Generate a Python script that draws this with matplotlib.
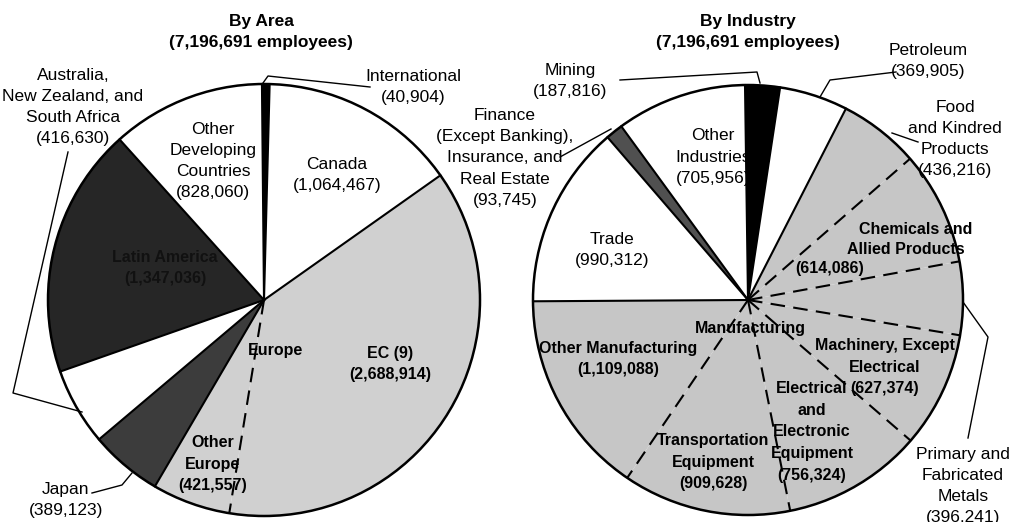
import matplotlib
matplotlib.use('Agg')
import matplotlib.pyplot as plt
from matplotlib.patches import Circle
import numpy as np

plt.rcParams['font.family'] = ['Liberation Sans', 'DejaVu Sans']

W, H = 1019, 522

# ---- By Area ----
area_labels = ['Canada', 'EC (9)', 'Other Europe', 'Japan',
               'Australia, New Zealand, and South Africa', 'Latin America',
               'Other Developing Countries', 'International']
area_values = [1064467, 2688914, 421557, 389123, 416630, 1347036, 828060, 40904]
area_groups = ['ca', 'eu', 'eu', 'jp', 'au', 'la', 'od', 'in']
area_colors = ['white', '#d0d0d0', '#d0d0d0', '#3c3c3c', 'white', '#262626', 'white', 'black']

# ---- By Industry ----
ind_labels = ['Mining', 'Petroleum', 'Food and Kindred Products',
              'Chemicals and Allied Products', 'Primary and Fabricated Metals',
              'Machinery, Except Electrical', 'Electrical and Electronic Equipment',
              'Transportation Equipment', 'Other Manufacturing', 'Trade',
              'Finance (Except Banking), Insurance, and Real Estate', 'Other Industries']
ind_values = [187816, 369905, 436216, 614086, 396241, 627374, 756324, 909628,
              1109088, 990312, 93745, 705956]
ind_groups = ['mi', 'pe', 'mf', 'mf', 'mf', 'mf', 'mf', 'mf', 'mf', 'tr', 'fi', 'oi']
ind_colors = ['black', 'white', '#c6c6c6', '#c6c6c6', '#c6c6c6', '#c6c6c6', '#c6c6c6',
              '#c6c6c6', '#c6c6c6', 'white', '#505050', 'white']

fig = plt.figure(figsize=(W / 100, H / 100), dpi=100)
ax = fig.add_axes([0, 0, 1, 1])


def P(x, y):
    return (x, H - y)


def draw_pie(values, colors, groups, cx, cy, r, start):
    c = P(cx, cy)
    ax.pie(values, colors=colors, startangle=start, counterclock=False,
           center=c, radius=r, wedgeprops=dict(linewidth=0), frame=True)
    total = float(sum(values))
    cum = np.concatenate([[0], np.cumsum(values)[:-1]])
    for i in range(len(values)):
        ang = np.deg2rad(start - 360.0 * cum[i] / total)
        dashed = groups[i - 1] == groups[i]
        x2 = c[0] + r * np.cos(ang)
        y2 = c[1] + r * np.sin(ang)
        if dashed:
            ax.plot([c[0], x2], [c[1], y2], color='black', lw=1.5,
                    linestyle=(0, (7, 4)), solid_capstyle='butt', zorder=5)
        else:
            ax.plot([c[0], x2], [c[1], y2], color='black', lw=1.5, zorder=5)
    ax.add_patch(Circle(c, r, fill=False, lw=1.8, ec='black', zorder=6))


draw_pie(area_values, area_colors, area_groups, 264, 300, 216, 88.5)
draw_pie(ind_values, ind_colors, ind_groups, 748, 300, 215, 90.8)

ax.set_xlim(0, W)
ax.set_ylim(0, H)
ax.set_aspect('equal')
ax.axis('off')

FS = 12.5
FS_IN = 11.5
LS = 1.5


def T(x, y, s, bold=False, color='black'):
    ax.text(*P(x, y), s, ha='center', va='center',
            fontsize=FS_IN if bold else FS, color=color,
            fontweight='bold' if bold else 'normal',
            linespacing=LS * (FS / FS_IN) ** 0.0 if not bold else LS * FS / FS_IN * 0.97,
            multialignment='center', zorder=10)


def L(pts):
    xs = [p[0] for p in pts]
    ys = [H - p[1] for p in pts]
    ax.plot(xs, ys, color='black', lw=1.0, zorder=9)


# Titles
for x, s in [(261, 'By Area\n(7,196,691 employees)'), (748, 'By Industry\n(7,196,691 employees)')]:
    ax.text(*P(x, 32), s, ha='center', va='center', fontsize=12.5,
            fontweight='bold', linespacing=1.55)

# Left labels
T(413, 87, 'International\n(40,904)')
T(337, 175, 'Canada\n(1,064,467)')
T(213, 161, 'Other\nDeveloping\nCountries\n(828,060)')
T(73, 107, 'Australia,\nNew Zealand, and\nSouth Africa\n(416,630)')
T(165, 268, 'Latin America\n(1,347,036)', bold=True, color='#111111')
T(276, 350, 'Europe', bold=True)
T(390, 364, 'EC (9)\n(2,688,914)', bold=True)
T(213, 464, 'Other\nEurope\n(421,557)', bold=True)
T(66, 500, 'Japan\n(389,123)')

L([(370, 87), (268, 76), (263, 83)])
L([(68, 152), (13, 393), (82, 412)])
L([(92, 493), (122, 485), (132, 473)])

# Right labels
T(570, 81, 'Mining\n(187,816)')
T(928, 61, 'Petroleum\n(369,905)')
T(955, 139, 'Food\nand Kindred\nProducts\n(436,216)')
T(505, 158, 'Finance\n(Except Banking),\nInsurance, and\nReal Estate\n(93,745)')
T(713, 157, 'Other\nIndustries\n(705,956)')
T(612, 250, 'Trade\n(990,312)')
T(916, 229, 'Chemicals and', bold=True)
T(906, 250, 'Allied Products', bold=True)
T(830, 269, '(614,086)', bold=True)
T(750, 328, 'Manufacturing', bold=True)
T(885, 367, 'Machinery, Except\nElectrical\n(627,374)', bold=True)
T(812, 432, 'Electrical\nand\nElectronic\nEquipment\n(756,324)', bold=True)
T(713, 462, 'Transportation\nEquipment\n(909,628)', bold=True)
T(618, 359, 'Other Manufacturing\n(1,109,088)', bold=True)
T(963, 486, 'Primary and\nFabricated\nMetals\n(396,241)')

L([(620, 80), (757, 72), (760, 83)])
L([(896, 72), (830, 80), (820, 97)])
L([(918, 142), (892, 133)])
L([(560, 157), (611, 129)])
L([(968, 438), (988, 337), (963, 302)])

fig.savefig('out.png', dpi=100)
